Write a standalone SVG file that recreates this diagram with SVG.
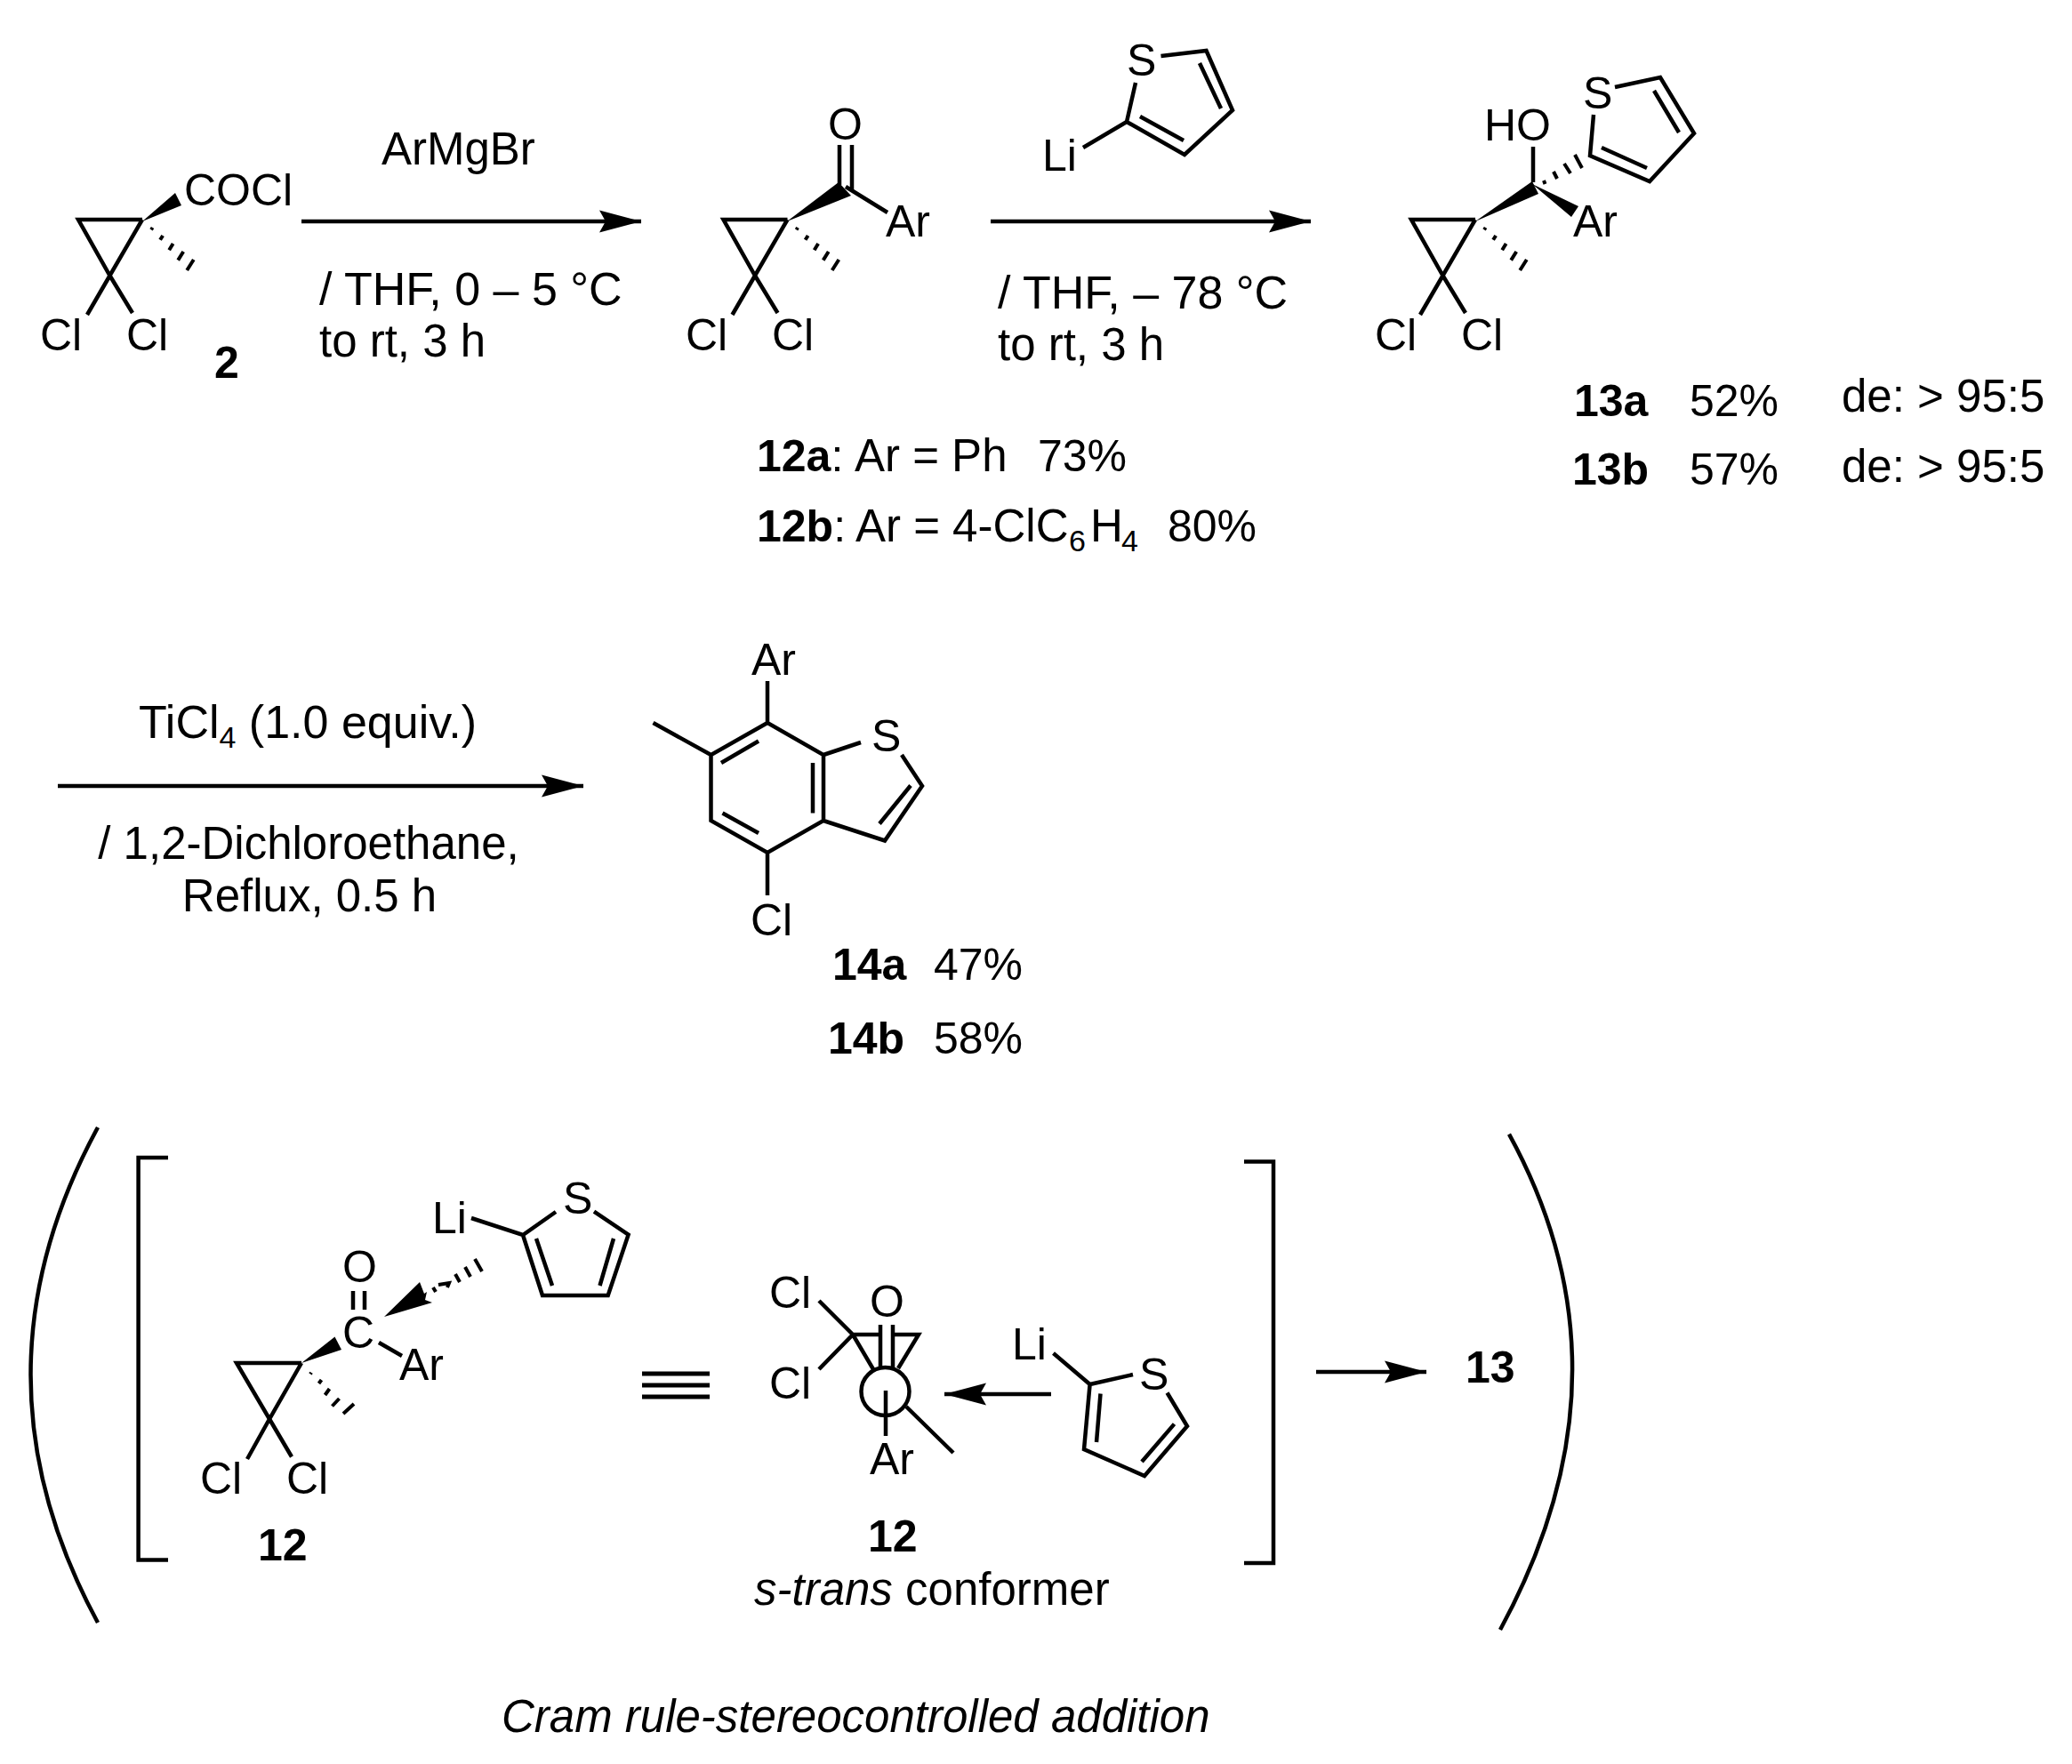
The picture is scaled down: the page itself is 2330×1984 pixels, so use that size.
<svg xmlns="http://www.w3.org/2000/svg" xmlns:xlink="http://www.w3.org/1999/xlink" width="2330" height="1984" viewBox="0 0 2330 1984">
<style>
text{font-family:"Liberation Sans",Arial,sans-serif;font-size:50px;fill:#000}
.l{font-size:51px}
.xl{font-size:52px}
.bd{font-weight:700}
.it{font-style:italic}
.sb{font-size:34px}
.b{fill:none;stroke:#000;stroke-width:4.5;stroke-linecap:butt;stroke-linejoin:miter}
.h{fill:none;stroke:#000;stroke-width:4}
.w{fill:#000;stroke:none}
.a{fill:none;stroke:#000;stroke-width:4.5}
.t{fill:none;stroke:#000;stroke-width:5}
</style>
<defs>
<marker id="head" markerUnits="userSpaceOnUse" markerWidth="50" markerHeight="26" refX="47" refY="13" orient="auto">
<path d="M0,0.5 L47,13 L0,25.5 L7,13 Z" fill="#000"/>
</marker>
<g id="cp">
<path class="b" d="M160,247 H88 L123.5,310 L160,247 M123.5,310 L98,354 M123.5,310 L149,352"/>
<path class="h" d="M170,258.4 L171.6,256 M180.1,269.8 L183.1,265 M190.2,281.2 L194.6,274 M200.2,292.6 L206.2,283 M210.2,304 L217.8,292"/>
</g>
</defs>
<g id="connectors">
<path class="a" marker-end="url(#head)" d="M339,249 H721"/>
<path class="a" marker-end="url(#head)" d="M1114,249 H1474"/>
<path class="a" marker-end="url(#head)" d="M65,884 H656"/>
<path class="a" marker-end="url(#head)" d="M1182,1568 H1062"/>
<path class="a" marker-end="url(#head)" d="M1480,1543 H1604"/>
</g>
<g id="compound-2">
<use href="#cp" xlink:href="#cp"/>
<polygon class="w" points="160,249 197,217 204,231"/>
<text x="207" y="231">COCl</text>
<text x="45" y="394">Cl</text><text x="142" y="394">Cl</text>
<text class="bd" x="241" y="425">2</text>
</g>
<g id="reagents-1">
<text class="l" x="429" y="185">ArMgBr</text>
<text class="xl" x="359" y="343">/ THF, 0 – 5 °C</text>
<text class="l" x="359" y="401">to rt, 3 h</text>
</g>
<g id="compound-12">
<use href="#cp" xlink:href="#cp" transform="translate(725.5,0)"/>
<polygon class="w" points="885,249 943,205 957,220"/>
<path class="b" d="M944,163 V208 M958,163 V214 M951,210 L998,239"/>
<text x="931" y="157">O</text>
<text x="996" y="266">Ar</text>
<text x="771" y="394">Cl</text><text x="868" y="394">Cl</text>
<text x="851" y="530"><tspan class="bd">12a</tspan><tspan>:</tspan></text>
<text class="l" x="961" y="530">Ar = Ph</text>
<text x="1167" y="530">73%</text>
<text x="851" y="609"><tspan class="bd">12b</tspan><tspan>:</tspan></text>
<text class="l" x="962" y="609">Ar = 4-ClC<tspan class="sb" x="1202" dy="11">6</tspan><tspan x="1226" dy="-11">H</tspan><tspan class="sb" x="1261" dy="11">4</tspan></text>
<text x="1313" y="609">80%</text>
</g>
<g id="reagents-2">
<path class="b" d="M1305.5,63 L1356.5,57 L1386,124 L1332,174 L1267,137 L1277,93 M1349,71 L1373,122 M1282,131 L1331,158 M1267,137 L1218,166"/>
<text x="1267" y="85">S</text>
<text x="1172" y="192">Li</text>
<text class="xl" x="1122" y="347">/ THF, – 78 °C</text>
<text class="l" x="1122" y="405">to rt, 3 h</text>
</g>
<g id="compound-13">
<use href="#cp" xlink:href="#cp" transform="translate(1499,0)"/>
<polygon class="w" points="1659,249 1723,204 1730,218"/>
<polygon class="w" points="1723,207 1775,232 1767,244"/>
<path class="b" d="M1724,205 V165 M1816,98 L1867,87 L1905,150 L1855,204 L1788,175 L1792,129 M1860,102 L1888,149 M1801,166 L1852,189"/>
<path class="h" d="M1736,203 L1737.5,207 M1747,193 L1751,201 M1759,184 L1766,195 M1771,174 L1779,189"/>
<text x="1669" y="158">HO</text>
<text x="1780" y="122">S</text>
<text x="1769" y="266">Ar</text>
<text x="1546" y="394">Cl</text><text x="1643" y="394">Cl</text>
<text class="bd" x="1770" y="468">13a</text><text x="1900" y="468">52%</text><text class="l" x="2071" y="463">de: &gt; 95:5</text>
<text class="bd" x="1768" y="545">13b</text><text x="1900" y="545">57%</text><text class="l" x="2071" y="542">de: &gt; 95:5</text>
</g>
<g id="reagents-3">
<text class="xl" x="156" y="830">TiCl<tspan class="sb" dy="11">4</tspan><tspan dy="-11"> (1.0 equiv.)</tspan></text>
<text class="l" x="347" y="966" text-anchor="middle">/ 1,2-Dichloroethane,</text>
<text class="l" x="348" y="1025" text-anchor="middle">Reflux, 0.5 h</text>
</g>
<g id="compound-14">
<path class="b" d="M863,766 V813 L926,849 V923 L863,959 L799.5,923 V849 L863,813 M799.5,849 L734.5,813 M863,959 V1007 M926,849 L968,835 M1014,849 L1037,884 L995,945.5 L926,923 M1024,883.5 L989,926.5 M811,858 L853,833.5 M914,858 V914.5 M812.5,914.5 L853,937"/>
<text x="845" y="759">Ar</text>
<text x="980" y="845">S</text>
<text x="844" y="1052">Cl</text>
<text class="bd" x="936" y="1102">14a</text><text x="1050" y="1102">47%</text>
<text class="bd" x="931" y="1185">14b</text><text x="1050" y="1185">58%</text>
</g>
<g id="paren-left"><path class="b" d="M110,1268 Q-41,1546 110,1825"/></g>
<g id="bracket-left"><path class="b" d="M189,1302 H155.6 V1754.6 H189"/></g>
<g id="ts-12">
<path class="b" d="M339,1533 H266 L303,1596 L339,1533 M303,1596 L278,1641 M303,1596 L328,1638.5 M397,1452 V1473 M410,1452 V1473 M426,1510 L452,1525 M530,1370 L588,1389 L625,1363 M668,1362.6 L706.6,1388.7 L683.7,1457 H610 L588,1389 M603,1393 L621,1446 M690,1393 L674.5,1446"/>
<polygon class="w" points="339,1533 376.5,1503.6 384,1518"/>
<polygon class="w" points="432,1481 472,1442 477,1455 480,1453 478,1462 486,1465"/>
<path class="h" d="M487,1448 L490,1453 M493,1445 L505,1443 L503,1448 M512,1433 L517,1442 M523,1425 L529,1436 M534,1416 L542,1430 M349,1545.4 L350,1543.8 M358.5,1556 L361.5,1552 M365.5,1569 L370.5,1562 M373.5,1581.5 L381.5,1573 M386,1590 L398,1579"/>
<text x="385" y="1442">O</text>
<text x="385" y="1516">C</text>
<text x="449" y="1552">Ar</text>
<text x="486" y="1387">Li</text>
<text x="633" y="1365">S</text>
<text x="225" y="1680">Cl</text><text x="322" y="1680">Cl</text>
<text class="bd" x="290" y="1755">12</text>
</g>
<g id="equivalent"><path class="t" d="M722,1545 H798 M722,1558 H798 M722,1571 H798"/></g>
<g id="conformer-12">
<circle class="b" cx="995.5" cy="1565" r="27"/>
<path class="b" d="M921,1463 L959,1501 L921,1540 M959,1501 H988 M1006,1501 H1033 L1010,1539 M959,1501 L982,1540 M990,1490 V1539 M1004,1490 V1539 M996,1564 V1615 M1019,1582 L1072,1634 M1184.5,1522 L1225.6,1557 L1274,1546 M1312.5,1566.5 L1335,1604 L1287,1660 L1219,1630 L1225.6,1557 M1237.5,1567.5 L1233,1622 M1320.5,1601.6 L1284,1644"/>
<text x="865" y="1471">Cl</text>
<text x="865" y="1573">Cl</text>
<text x="978" y="1481">O</text>
<text x="978" y="1658">Ar</text>
<text x="1138" y="1529">Li</text>
<text x="1281" y="1563">S</text>
<text class="bd" x="976" y="1745">12</text>
<text class="l" x="848" y="1805"><tspan class="it">s-trans</tspan> conformer</text>
</g>
<g id="bracket-right"><path class="b" d="M1399,1306.4 H1432 V1758 H1399"/></g>
<g id="compound-13-ref"><text class="bd" x="1648" y="1555">13</text></g>
<g id="paren-right"><path class="b" d="M1697,1275.6 Q1844,1544 1687,1833"/></g>
<g id="caption"><text class="l it" x="564" y="1948">Cram rule-stereocontrolled addition</text></g>
</svg>
